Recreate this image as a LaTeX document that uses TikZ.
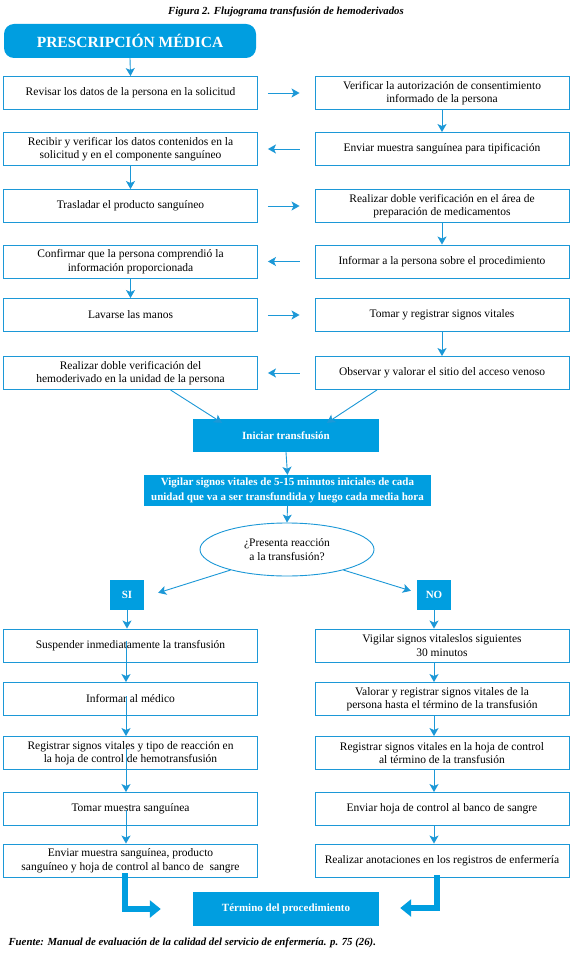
\documentclass[tikz,border=0pt]{standalone}
\usepackage{fontspec}
\setmainfont{Liberation Serif}
\usetikzlibrary{arrows.meta,shapes.geometric,calc}
\definecolor{cyanbox}{RGB}{0,158,224}
\definecolor{bline}{RGB}{28,152,215}
\begin{document}
\begin{tikzpicture}[x=1pt,y=-1pt,
  wbox/.style={draw=bline, line width=0.9pt, fill=white, minimum width=254pt, minimum height=33pt, align=center, font=\fontsize{11.5}{13.5}\selectfont, inner sep=1pt},
  bbox/.style={fill=cyanbox, text=white, align=center, font=\fontsize{11}{14.5}\selectfont\bfseries, inner sep=1pt},
  arr/.style={draw=bline, line width=0.9pt, -{Stealth[length=8pt,width=9pt,inset=2pt]}},
  fatarr/.style={draw=cyanbox, line width=6.5pt, -{Triangle[length=11pt,width=17pt]}},
]
\useasboundingbox[fill=white] (0,0) rectangle (572,957);

% title
\node[font=\fontsize{10.8}{12}\selectfont\bfseries\itshape] (title) at (286,12) {Figura 2. Flujograma transfusión de hemoderivados};

\node[fill=cyanbox, rounded corners=10pt, minimum width=252pt, minimum height=34pt, text=white, font=\fontsize{15.5}{17}\selectfont\bfseries] (pm) at (130,41) {PRESCRIPCIÓN MÉDICA};

% upper rows
\node[wbox] (l1) at (130.5,93) {Revisar los datos de la persona en la solicitud};
\node[wbox] (r1) at (442,93) {Verificar la autorización de consentimiento\\informado de la persona};
\node[wbox] (l2) at (130.5,149) {Recibir y verificar los datos contenidos en la\\solicitud y en el componente sanguíneo};
\node[wbox] (r2) at (442,149) {Enviar muestra sanguínea para tipificación};
\node[wbox] (l3) at (130.5,206) {Trasladar el producto sanguíneo};
\node[wbox] (r3) at (442,206) {Realizar doble verificación en el área de\\preparación de medicamentos};
\node[wbox] (l4) at (130.5,261.5) {Confirmar que la persona comprendió la\\información proporcionada};
\node[wbox] (r4) at (442,261.5) {Informar a la persona sobre el procedimiento};
\node[wbox] (l5) at (130.5,315) {Lavarse las manos};
\node[wbox] (r5) at (442,315) {Tomar y registrar signos vitales};
\node[wbox] (l6) at (130.5,373) {Realizar doble verificación del\\hemoderivado en la unidad de la persona};
\node[wbox] (r6) at (442,373) {Observar y valorar el sitio del acceso venoso};

\node[bbox, minimum width=186pt, minimum height=33pt] (ini) at (286,435.5) {Iniciar transfusión};
\node[bbox, minimum width=287pt, minimum height=31pt] (vig) at (287.5,490.5) {Vigilar signos vitales de 5-15 minutos iniciales de cada\\unidad que va a ser transfundida y luego cada media hora};
\node[ellipse, draw=bline, line width=0.9pt, fill=white, minimum width=174pt, minimum height=53pt, inner sep=0pt, align=center, font=\fontsize{11.5}{14.5}\selectfont] (q) at (287,549.5) {¿Presenta reacción\\a la transfusión?};
\node[bbox, minimum width=34pt, minimum height=30pt] (si) at (127,595) {SI};
\node[bbox, minimum width=34pt, minimum height=30pt] (no) at (434,595) {NO};

% lower rows
\node[wbox] (a1) at (130.5,645.5) {Suspender inmediatamente la transfusión};
\node[wbox] (b1) at (442,645.5) {Vigilar signos vitaleslos siguientes\\30 minutos};
\node[wbox] (a2) at (130.5,699) {Informar al médico};
\node[wbox] (b2) at (442,699) {Valorar y registrar signos vitales de la\\persona hasta el término de la transfusión};
\node[wbox] (a3) at (130.5,753) {Registrar signos vitales y tipo de reacción en\\la hoja de control de hemotransfusión};
\node[wbox] (b3) at (442,753) {Registrar signos vitales en la hoja de control\\al término de la transfusión};
\node[wbox] (a4) at (130.5,809) {Tomar muestra sanguínea};
\node[wbox] (b4) at (442,809) {Enviar hoja de control al banco de sangre};
\node[wbox] (a5) at (130.5,860.5) {Enviar muestra sanguínea, producto\\sanguíneo y hoja de control al banco de~ sangre};
\node[wbox] (b5) at (442,860.5) {Realizar anotaciones en los registros de enfermería};

\node[bbox, minimum width=186pt, minimum height=34pt] (fin) at (286,909) {Término del procedimiento};

\node[anchor=west, font=\fontsize{10.8}{12}\selectfont\bfseries\itshape] (src) at (5,943) {Fuente: Manual de evaluación de la calidad del servicio de enfermería. p. 75 (26).};

% connectors upper
\draw[arr] (pm.south) -- (l1.north);
\draw[arr] ([xshift=10pt]l1.east) -- ([xshift=-15pt]r1.west);
\draw[arr] (r1.south) -- (r2.north);
\draw[arr] ([xshift=-15pt]r2.west) -- ([xshift=10pt]l2.east);
\draw[arr] (l2.south) -- (l3.north);
\draw[arr] ([xshift=10pt]l3.east) -- ([xshift=-15pt]r3.west);
\draw[arr] (r3.south) -- (r4.north);
\draw[arr] ([xshift=-15pt]r4.west) -- ([xshift=10pt]l4.east);
\draw[arr] (l4.south) -- (l5.north);
\draw[arr] ([xshift=10pt]l5.east) -- ([xshift=-15pt]r5.west);
\draw[arr] (r5.south) -- (r6.north);
\draw[arr] ([xshift=-15pt]r6.west) -- ([xshift=10pt]l6.east);
\draw[arr] ([xshift=40pt]l6.south) -- ([xshift=-64pt,yshift=-4pt]ini.north);
\draw[arr] ([xshift=-65pt]r6.south) -- ([xshift=41pt,yshift=-4pt]ini.north);
\draw[arr] (ini.south) -- (vig.north);
\draw[arr] (vig.south) -- (q.north);
\draw[arr] (q.200) -- ([xshift=14pt,yshift=-13pt]si.north east);
\draw[arr] (q.-20) -- ([xshift=-6pt,yshift=-11pt]no.north west);
\draw[arr] (si.south) -- (a1.north -| si.south);
\draw[arr] (no.south) -- (b1.north -| no.south);

% lower connectors
\draw[arr] ([xshift=-4.5pt,yshift=5pt]a1.center) -- ([xshift=-4.5pt]a2.north);
\draw[arr] ([xshift=-4.5pt,yshift=3pt]a2.center) -- ([xshift=-4.5pt]a3.north);
\draw[arr] ([xshift=-4.5pt,yshift=4pt]a3.center) -- ([xshift=-4.5pt]a4.north);
\draw[arr] ([xshift=-4.5pt,yshift=-1pt]a4.center) -- ([xshift=-4.5pt]a5.north);
\draw[arr] ([xshift=-8pt]b1.south) -- ([xshift=-8pt]b2.north);
\draw[arr] ([xshift=-8pt]b2.south) -- ([xshift=-8pt]b3.north);
\draw[arr] ([xshift=-8pt]b3.south) -- ([xshift=-8pt]b4.north);
\draw[arr] ([xshift=-8pt]b4.south) -- ([xshift=-8pt]b5.north);

% fat arrows
\draw[fatarr] ([xshift=-5.5pt,yshift=4pt]a5.south) |- ([xshift=-32pt]fin.west);
\draw[fatarr] ([xshift=-5pt,yshift=2pt]b5.south) |- ([xshift=21pt,yshift=1pt]fin.east);
\end{tikzpicture}
\end{document}
